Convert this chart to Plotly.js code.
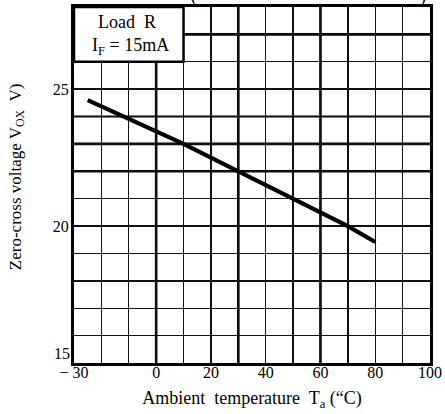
<!DOCTYPE html>
<html>
<head>
<meta charset="utf-8">
<script src="https://cdn.plot.ly/plotly-3.0.1.min.js"></script>
<style>html,body{margin:0;padding:0;background:#fff;}#chart{width:445px;height:414px;}</style>
</head>
<body>
<div id="chart"></div>
<script>
// Data
const tempC = [-25, -12, 10, 30, 50, 70, 80];
const voxV  = [24.6, 24.0, 23.0, 22.0, 21.0, 20.0, 19.42];

const xTickVals = [-30, -20, -10, 0, 10, 20, 30, 40, 50, 60, 70, 80, 90, 100];
const xTickText = ['\u2212 30', '', '', '0', '', '20', '', '40', '', '60', '', '80', '', '100'];
const yTickVals = [15, 16, 17, 18, 19, 20, 21, 22, 23, 24, 25, 26, 27, 28];
const yTickText = ['', '', '', '', '', '20', '', '', '', '', '25', '', '', ''];
const yLowLabel = '15';

const thickX = [0, 30, 60];
const thickY = [22, 23, 27];
const grayThickY = [24];

const serif = '"Liberation Serif", "Times New Roman", serif';

const shapes = [];
thickX.forEach(v => shapes.push({type:'line', xref:'x', yref:'y', x0:v, x1:v, y0:15, y1:28, line:{color:'#000', width:2.6}, layer:'below'}));
thickY.forEach(v => shapes.push({type:'line', xref:'x', yref:'y', x0:-30, x1:100, y0:v, y1:v, line:{color:'#000', width:2.6}, layer:'below'}));
grayThickY.forEach(v => shapes.push({type:'line', xref:'x', yref:'y', x0:-30, x1:100, y0:v, y1:v, line:{color:'#555', width:2.6}, layer:'below'}));
// condition box (upper left)
shapes.push({type:'rect', xref:'x', yref:'y', x0:-30, x1:10, y0:26, y1:28, fillcolor:'#fff', line:{color:'#000', width:2.5}, layer:'above'});

const trace = {
  x: tempC, y: voxV, type:'scatter', mode:'lines',
  line:{color:'#000', width:4.2}, hoverinfo:'skip', showlegend:false
};

const layout = {
  width:445, height:414,
  margin:{l:74, r:15, t:7, b:51},
  paper_bgcolor:'#fff', plot_bgcolor:'#fff',
  font:{family:serif, color:'#000', size:16},
  showlegend:false,
  xaxis:{
    range:[-30, 100], tickmode:'array', tickvals:xTickVals, ticktext:xTickText,
    showgrid:true, gridcolor:'#111', gridwidth:1.4, zeroline:false,
    showline:true, mirror:true, linecolor:'#000', linewidth:3,
    ticks:'', tickfont:{family:serif, size:16}, ticklabelstandoff:-7,
    title:{text:'Ambient  temperature  T<sub>a</sub> (\u201cC)', font:{family:serif, size:18}, standoff:12}
  },
  yaxis:{
    range:[15, 28], tickmode:'array', tickvals:yTickVals, ticktext:yTickText,
    showgrid:true, gridcolor:'#111', gridwidth:1.4, zeroline:false,
    showline:true, mirror:true, linecolor:'#000', linewidth:3,
    ticks:'', tickfont:{family:serif, size:16}, ticklabelstandoff:-1
  },
  shapes: shapes,
  annotations:[
    {xref:'paper', yref:'paper', x:0, xanchor:'center', xshift:-57, y:0.522, textangle:-90,
     text:'Zero-cross voltage V<sub>OX</sub>  V)', showarrow:false, font:{family:serif, size:17}},
    {xref:'paper', yref:'y', x:0, xanchor:'right', xshift:-2, y:15, yshift:10, text:yLowLabel, showarrow:false, font:{family:serif, size:16}},
    {xref:'x', yref:'y', x:-10.8, y:27.45, text:'Load  R', showarrow:false, font:{family:serif, size:18}},
    {xref:'x', yref:'y', x:-9.5, y:26.57, text:'I<sub>F</sub> = 15mA', showarrow:false, font:{family:serif, size:18}},
    {xref:'x', yref:'paper', x:14, y:1, yanchor:'middle', yshift:11, text:'(', showarrow:false, font:{family:serif, size:18}},
    {xref:'x', yref:'paper', x:97.5, y:1, yanchor:'middle', yshift:11, text:')', showarrow:false, font:{family:serif, size:18}}
  ]
};

Plotly.newPlot('chart', [trace], layout, {staticPlot:true, displayModeBar:false});
</script>
</body>
</html>
